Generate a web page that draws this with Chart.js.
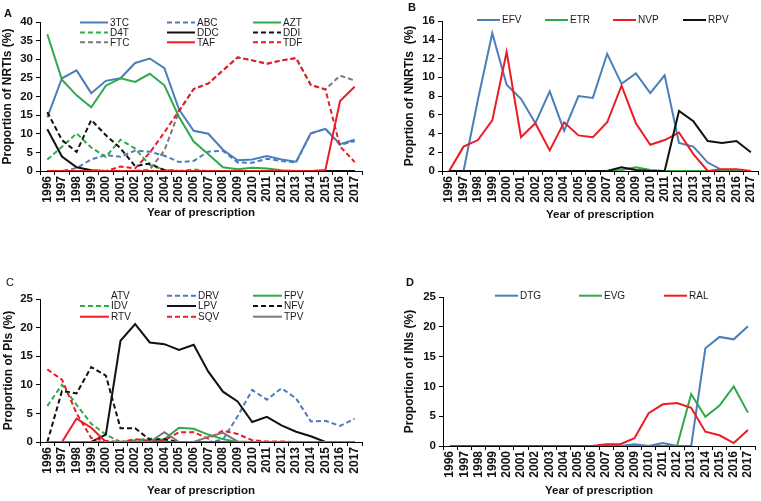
<!DOCTYPE html>
<html>
<head>
<meta charset="utf-8">
<script src="https://cdn.jsdelivr.net/npm/chart.js@4.4.1/dist/chart.umd.min.js"></script>
<style>
  body { margin: 0; background: #fff; font-family: "Liberation Sans", Arial, sans-serif; }
  #page { position: relative; width: 761px; height: 501px; overflow: hidden; background: #fff; }
  .panel { position: absolute; }
  .tag { position: absolute; font-size: 11px; font-weight: bold; color: #111; line-height: 12px; }
</style>
</head>
<body>
<div id="page">
  <div class="panel" style="left:0;top:0;width:380px;height:250px"><canvas id="chartA"></canvas></div>
  <div class="panel" style="left:380px;top:0;width:381px;height:250px"><canvas id="chartB"></canvas></div>
  <div class="panel" style="left:0;top:250px;width:380px;height:251px"><canvas id="chartC"></canvas></div>
  <div class="panel" style="left:380px;top:250px;width:381px;height:251px"><canvas id="chartD"></canvas></div>
  <div class="tag" style="left:4px;top:7px">A</div>
  <div class="tag" style="left:408px;top:1px">B</div>
  <div class="tag" style="left:6px;top:276px;font-weight:normal">C</div>
  <div class="tag" style="left:406px;top:276px">D</div>
</div>
<script>
const years = ['1996', '1997', '1998', '1999', '2000', '2001', '2002', '2003', '2004', '2005', '2006',
  '2007', '2008', '2009', '2010', '2011', '2012', '2013', '2014', '2015', '2016', '2017'];

// A - NRTIs
const nrti3TC = [14.4, 24.9, 27.0, 20.9, 24.2, 24.9, 29.0, 30.2, 27.6, 16.5, 10.8, 10.0, 5.7, 2.9, 3.1, 4.0, 3.1, 2.5, 10.1, 11.3, 7.2, 8.4];
const nrtiABC = [0, 0, 0.8, 3.1, 4.3, 3.8, 5.5, 5.2, 4.1, 2.4, 2.7, 5.2, 5.4, 2.3, 2.2, 3.3, 2.7, 2.3, 10.1, 11.3, 7.0, 8.0];
const nrtiAZT = [36.7, 24.5, 20.3, 17.1, 22.9, 24.9, 23.9, 26.1, 23.0, 14.5, 7.9, 4.5, 1.0, 0.5, 0.9, 0.7, 0.2, 0, 0, 0, 0, 0];
const nrtiD4T = [3.1, 6.5, 10.1, 6.3, 3.8, 8.4, 6.0, 1.6, 0.3, 0, 0.4, 0, 0, 0, 0, 0, 0, 0, 0, 0, 0, 0];
const nrtiDDC = [11.2, 3.9, 1.0, 0.2, 0, 0, 0, 0, 0, 0, 0, 0, 0, 0, 0, 0, 0, 0, 0, 0, 0, 0];
const nrtiDDI = [15.8, 8.3, 5.1, 13.7, 9.6, 6.1, 1.3, 2.0, 0.2, 0, 0, 0, 0, 0, 0, 0, 0, 0, 0, 0, 0, 0];
const nrtiFTC = [0, 0, 0, 0, 0, 0, 0, 0.4, 5.5, 16.0, 22.0, 23.5, 27.0, 30.5, 29.7, 28.8, 29.7, 30.3, 23.1, 21.9, 25.6, 24.3];
const nrtiTAF = [0, 0, 0, 0, 0, 0, 0, 0, 0, 0, 0, 0, 0, 0, 0, 0, 0, 0, 0, 0.3, 18.8, 22.6];
const nrtiTDF = [0, 0, 0, 0, 0, 1.2, 0.7, 4.9, 10.4, 16.2, 22.0, 23.5, 27.0, 30.5, 29.7, 28.8, 29.7, 30.3, 23.1, 21.9, 6.6, 2.4];
const ticksNRTI = [0, 5, 10, 15, 20, 25, 30, 35, 40];

// B - NNRTIs
const nnrtiEFV = [0, 0, 7.6, 14.7, 9.2, 7.7, 5.1, 8.5, 4.3, 8.0, 7.8, 12.5, 9.3, 10.4, 8.3, 10.2, 3.0, 2.6, 0.9, 0.1, 0, 0];
const nnrtiETR = [0, 0, 0, 0, 0, 0, 0, 0, 0, 0, 0, 0, 0.1, 0.4, 0.1, 0, 0, 0, 0, 0, 0, 0];
const nnrtiNVP = [0, 2.6, 3.3, 5.4, 12.7, 3.6, 5.1, 2.2, 5.2, 3.8, 3.6, 5.2, 9.1, 5.1, 2.8, 3.3, 4.1, 1.8, 0, 0.2, 0.2, 0];
const nnrtiRPV = [0, 0, 0, 0, 0, 0, 0, 0, 0, 0, 0, 0, 0.4, 0.1, 0, 0, 6.4, 5.3, 3.2, 3.0, 3.2, 2.0];
const ticksNNRTI = [0, 2, 4, 6, 8, 10, 12, 14, 16];

// C - PIs
const piATV = [0, 0, 0, 0, 0, 0, 0, 0, 0, 0, 0, 0, 0, 0, 0, 0, 0, 0, 0, 0, 0, 0];
const piDRV = [0, 0, 0, 0, 0, 0, 0, 0, 0, 0, 0, 0, 0.4, 4.5, 9.1, 7.4, 9.4, 7.6, 3.6, 3.7, 2.8, 4.1];
const piFPV = [0, 0, 0, 0, 0, 0, 0, 0.3, 0.5, 2.5, 2.3, 1.3, 0.5, 0, 0, 0, 0, 0, 0, 0, 0, 0];
const piIDV = [6.3, 10.0, 6.5, 3.2, 1.3, 0, 0.3, 0.6, 0.3, 0, 0, 0, 0, 0, 0, 0, 0, 0, 0, 0, 0, 0];
const piLPV = [0, 0, 0, 0, 1.3, 17.7, 20.6, 17.4, 17.1, 16.1, 17.0, 12.3, 8.8, 7.1, 3.5, 4.4, 2.9, 1.8, 1.0, 0, 0, 0];
const piNFV = [0, 8.9, 8.5, 13.1, 11.6, 2.4, 2.4, 0.4, 0.5, 0, 0, 0, 0, 0, 0, 0, 0, 0, 0, 0, 0, 0];
const piRTV = [0, 0, 4.1, 2.5, 0, 0, 0, 0, 0, 0, 0, 0, 0, 0, 0, 0, 0, 0, 0, 0, 0, 0];
const piSQV = [12.7, 10.9, 5.0, 0.7, 0.2, 0, 0.5, 0.2, 0.3, 1.7, 1.7, 0.6, 2.0, 1.4, 0.3, 0.1, 0.1, 0, 0, 0, 0, 0];
const piTPV = [0, 0, 0, 0, 0, 0, 0, 0, 1.7, 0, 0, 0.9, 1.6, 0.1, 0, 0, 0, 0, 0, 0, 0, 0];
const ticksPI = [0, 5, 10, 15, 20, 25];

// D - INIs
const iniDTG = [0, 0, 0, 0, 0, 0, 0, 0, 0, 0, 0, 0, 0, 0.3, 0, 0.5, 0, 0, 16.4, 18.3, 17.9, 20.1];
const iniEVG = [0, 0, 0, 0, 0, 0, 0, 0, 0, 0, 0, 0, 0, 0, 0, 0, 0, 8.7, 4.9, 6.8, 10.0, 5.6];
const iniRAL = [0, 0, 0, 0, 0, 0, 0, 0, 0, 0, 0, 0.3, 0.3, 1.3, 5.5, 7.0, 7.2, 6.4, 2.4, 1.8, 0.5, 2.7];
const ticksINI = [0, 5, 10, 15, 20, 25];

const BLUE = '#4a7ebb';
const GREEN = '#2eaa4a';
const RED = '#ec1c24';
const BLACK = '#111111';
const GREY = '#7a7a7a';
const DASH = [5, 3];

Chart.defaults.font.family = '"Liberation Sans", Arial, sans-serif';
Chart.defaults.color = '#111';

function series(label, data, color, dashed) {
    return {
        label: label,
        data: data,
        borderColor: color,
        backgroundColor: color,
        borderDash: dashed ? DASH : [],
        borderWidth: 2,
        pointRadius: 0,
        tension: 0,
        fill: false
    };
}

// legend drawn inside the plot, laid out on a fixed grid like the original
const legendLines = {
    id: 'legendLines',
    afterDatasetsDraw(chart, args, opts) {
        const ctx = chart.ctx;
        ctx.save();
        ctx.font = '10px "Liberation Sans", Arial, sans-serif';
        ctx.textBaseline = 'middle';
        chart.data.datasets.forEach((ds, i) => {
            const x = opts.cols[i % opts.cols.length];
            const y = opts.rows[Math.floor(i / opts.cols.length)];
            ctx.strokeStyle = ds.borderColor;
            ctx.lineWidth = 2;
            ctx.setLineDash(ds.borderDash);
            ctx.beginPath();
            ctx.moveTo(x, y);
            ctx.lineTo(x + opts.len, y);
            ctx.stroke();
            ctx.setLineDash([]);
            ctx.fillStyle = '#1a1a1a';
            ctx.fillText(ds.label, x + opts.len + 2, y + 0.5);
        });
        ctx.restore();
    }
};

function makeChart(id, datasets, c) {
    const n = datasets.length;
    datasets.forEach((d, i) => { d.order = n - i; });
    const padLeft = c.yTitleX - 7.2;
    const xBottom = c.xTitleY + 6.6;
    new Chart(document.getElementById(id), {
        type: 'line',
        data: { labels: years, datasets: datasets },
        plugins: [legendLines],
        options: {
            responsive: true,
            maintainAspectRatio: false,
            animation: false,
            events: [],
            layout: { padding: { left: padLeft, top: c.top, right: c.w - c.right, bottom: c.h - xBottom } },
            plugins: {
                legend: { display: false },
                tooltip: { enabled: false },
                legendLines: c.legend
            },
            scales: {
                x: {
                    offset: true,
                    grid: { display: true, offset: true, drawOnChartArea: false, drawTicks: true, tickLength: 4, color: '#000' },
                    border: { display: true, color: '#000', width: 1 },
                    ticks: { color: '#111', font: { size: 12, weight: 'bold' }, minRotation: 90, maxRotation: 90, autoSkip: false, padding: 1 },
                    title: { display: true, text: 'Year of prescription', color: '#111', font: { size: 11.5, weight: 'bold', lineHeight: 1.15 }, padding: 0 },
                    afterFit: s => { s.height = xBottom - c.bottom; s.paddingLeft = 0; s.paddingRight = 0; }
                },
                y: {
                    min: c.ticks[0],
                    max: c.ticks[c.ticks.length - 1],
                    grid: { display: true, drawOnChartArea: false, drawTicks: true, tickLength: 4, color: '#000' },
                    border: { display: true, color: '#000', width: 1 },
                    ticks: { stepSize: c.ticks[1] - c.ticks[0], color: '#111', font: { size: 11.5, weight: 'bold' }, padding: 3 },
                    title: { display: true, text: c.yTitle, color: '#111', font: { size: 12, weight: 'bold', lineHeight: 1.2 }, padding: 0 },
                    afterFit: s => { s.width = c.left - padLeft; s.paddingTop = 0; s.paddingBottom = 0; }
                }
            }
        }
    });
}

makeChart('chartA', [
    series('3TC', nrti3TC, BLUE, false),
    series('ABC', nrtiABC, BLUE, true),
    series('AZT', nrtiAZT, GREEN, false),
    series('D4T', nrtiD4T, GREEN, true),
    series('DDC', nrtiDDC, BLACK, false),
    series('DDI', nrtiDDI, BLACK, true),
    series('FTC', nrtiFTC, GREY, true),
    series('TAF', nrtiTAF, RED, false),
    series('TDF', nrtiTDF, RED, true)
], {
    w: 380, h: 250, left: 40, top: 22, right: 362, bottom: 171,
    yTitleX: 8, xTitleY: 213, yTitle: 'Proportion of NRTIs (%)', ticks: ticksNRTI,
    legend: { cols: [80, 167, 253], rows: [22.5, 32.5, 42.3], len: 28 }
});

makeChart('chartB', [
    series('EFV', nnrtiEFV, BLUE, false),
    series('ETR', nnrtiETR, GREEN, false),
    series('NVP', nnrtiNVP, RED, false),
    series('RPV', nnrtiRPV, BLACK, false)
], {
    w: 381, h: 250, left: 62, top: 21, right: 378, bottom: 171,
    yTitleX: 30, xTitleY: 215, yTitle: 'Proprtion of NNRTIs  (%)', ticks: ticksNNRTI,
    legend: { cols: [97, 165, 233, 303], rows: [20], len: 23 }
});

const atv = series('ATV', piATV, 'rgba(0,0,0,0)', false);
makeChart('chartC', [
    atv,
    series('DRV', piDRV, BLUE, true),
    series('FPV', piFPV, GREEN, false),
    series('IDV', piIDV, GREEN, true),
    series('LPV', piLPV, BLACK, false),
    series('NFV', piNFV, BLACK, true),
    series('RTV', piRTV, RED, false),
    series('SQV', piSQV, RED, true),
    series('TPV', piTPV, GREY, false)
], {
    w: 380, h: 251, left: 40, top: 49, right: 362, bottom: 192,
    yTitleX: 8.3, xTitleY: 240.7, yTitle: 'Proportion of PIs (%)', ticks: ticksPI,
    legend: { cols: [80, 167, 253], rows: [45.7, 56, 66.7], len: 29 }
});

makeChart('chartD', [
    series('DTG', iniDTG, BLUE, false),
    series('EVG', iniEVG, GREEN, false),
    series('RAL', iniRAL, RED, false)
], {
    w: 381, h: 251, left: 63, top: 47, right: 375, bottom: 196,
    yTitleX: 30, xTitleY: 240.7, yTitle: 'Proportion of INIs (%)', ticks: ticksINI,
    legend: { cols: [115, 199, 284], rows: [45.7], len: 23 }
});
</script>
</body>
</html>
